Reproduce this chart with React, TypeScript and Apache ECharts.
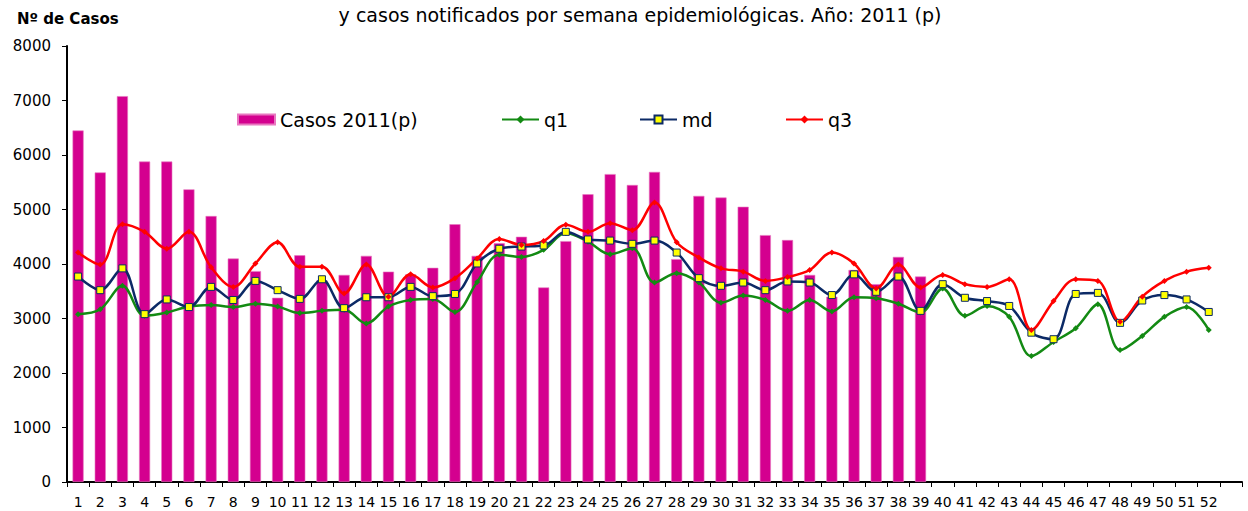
import React, { useEffect, useRef } from "react";
import * as echarts from "echarts";

const weeks = Array.from({ length: 53 }, (_, i) => (i < 52 ? String(i + 1) : ""));

const casos2011 = [
  6450, 5680, 7080, 5880, 5880, 5370, 4880, 4100, 3870, 3380,
  4160, 3700, 3800, 4150, 3860, 3810, 3930, 4730, 4150, 4380,
  4500, 3570, 4420, 5280, 5650, 5450, 5690, 4090, 5250, 5220,
  5050, 4530, 4440, 3800, 3400, 3890, 3630, 4130, 3770,
];

const q1 = [
  3080, 3170, 3600, 3050, 3110, 3220, 3250, 3210, 3270, 3220,
  3100, 3140, 3160, 2910, 3220, 3340, 3360, 3120, 3670, 4170,
  4130, 4260, 4570, 4410, 4180, 4290, 3660, 3830, 3660, 3290,
  3420, 3340, 3140, 3340, 3130, 3390, 3370, 3270, 3110, 3550,
  3050, 3230, 3030, 2310, 2570, 2820, 3260, 2420, 2680, 3030,
  3210, 2790,
];

const md = [
  3770, 3520, 3920, 3080, 3350, 3210, 3580, 3340, 3690, 3520,
  3360, 3720, 3190, 3390, 3390, 3580, 3410, 3450, 4010, 4280,
  4320, 4340, 4590, 4450, 4430, 4370, 4430, 4210, 3740, 3600,
  3660, 3520, 3680, 3660, 3430, 3810, 3490, 3770, 3140, 3630,
  3380, 3320, 3230, 2740, 2620, 3450, 3470, 2920, 3330, 3430,
  3350, 3120,
];

const q3 = [
  4210, 3990, 4730, 4590, 4280, 4590, 3940, 3580, 4010, 4400,
  3950, 3950, 3460, 3990, 3400, 3810, 3570, 3740, 4100, 4460,
  4350, 4420, 4720, 4590, 4750, 4620, 5130, 4400, 4120, 3920,
  3860, 3690, 3760, 3890, 4210, 4010, 3550, 3990, 3570, 3800,
  3630, 3580, 3720, 2790, 3320, 3720, 3690, 2940, 3400, 3690,
  3860, 3930,
];

const legendNames = ["Casos 2011(p)", "q1", "md", "q3"];

export default function App() {
  const ref = useRef<HTMLDivElement>(null);
  useEffect(() => {
    if (!ref.current) return;
    const chart = echarts.init(ref.current, undefined, { renderer: "svg" });
    const font = "DejaVu Sans, Arial, sans-serif";
    const legendLefts = [232, 496, 634, 780];
    chart.setOption({
      animation: false,
      backgroundColor: "#ffffff",
      textStyle: { fontFamily: font },
      title: [
        {
          text: "y casos notificados por semana epidemiológicas. Año: 2011 (p)",
          left: 635,
          top: 0,
          textAlign: "center",
          textStyle: { fontSize: 19, fontWeight: "normal", color: "#000", fontFamily: font },
        },
        {
          text: "Nº de Casos",
          left: 12,
          top: 6,
          textStyle: { fontSize: 15, fontWeight: "bold", color: "#000", fontFamily: font },
        },
      ],
      legend: legendNames.map((n, i) => ({
        left: legendLefts[i],
        top: 105,
        itemWidth: 37,
        itemHeight: 10,
        textStyle: { fontSize: 19, color: "#000", fontFamily: font },
        data: [i === 0 ? { name: n, icon: "rect" } : { name: n }],
      })),
      grid: { left: 67, right: 6, top: 46, bottom: 29, containLabel: false },
      xAxis: {
        type: "category",
        data: weeks,
        boundaryGap: true,
        axisLine: { lineStyle: { color: "#000", width: 2 } },
        axisTick: { show: true, length: 5, lineStyle: { color: "#000" } },
        axisLabel: { interval: 0, color: "#000", fontSize: 14, margin: 13, fontFamily: font },
      },
      yAxis: {
        type: "value",
        min: 0,
        max: 8000,
        interval: 1000,
        axisLine: { show: true, lineStyle: { color: "#000", width: 2 } },
        axisTick: { show: true, length: 5, lineStyle: { color: "#000" } },
        axisLabel: {
          color: "#000",
          fontSize: 15,
          margin: 16,
          fontFamily: font,
          formatter: (v: number) => String(v),
        },
        splitLine: { show: false },
      },
      series: [
        {
          name: "Casos 2011(p)",
          type: "bar",
          data: casos2011,
          barWidth: "50%",
          itemStyle: { color: "#D4008F", borderColor: "#E878C0", borderWidth: 0.6 },
        },
        {
          name: "q1",
          type: "line",
          data: q1,
          smooth: 0.35,
          symbol: "diamond",
          symbolSize: 6,
          lineStyle: { color: "#138A13", width: 2.5 },
          itemStyle: { color: "#138A13" },
        },
        {
          name: "md",
          type: "line",
          data: md,
          smooth: 0.35,
          symbol: "rect",
          symbolSize: 7,
          lineStyle: { color: "#0C2A66", width: 2.5 },
          itemStyle: { color: "#FFFF00", borderColor: "#0C2A66", borderWidth: 1 },
        },
        {
          name: "q3",
          type: "line",
          data: q3,
          smooth: 0.35,
          symbol: "diamond",
          symbolSize: 6,
          lineStyle: { color: "#FF0000", width: 2.5 },
          itemStyle: { color: "#FF0000" },
        },
      ],
    });
    return () => chart.dispose();
  }, []);
  return (
    <div
      ref={ref}
      style={{ position: "absolute", left: 0, top: 0, width: 1248, height: 511 }}
    />
  );
}
